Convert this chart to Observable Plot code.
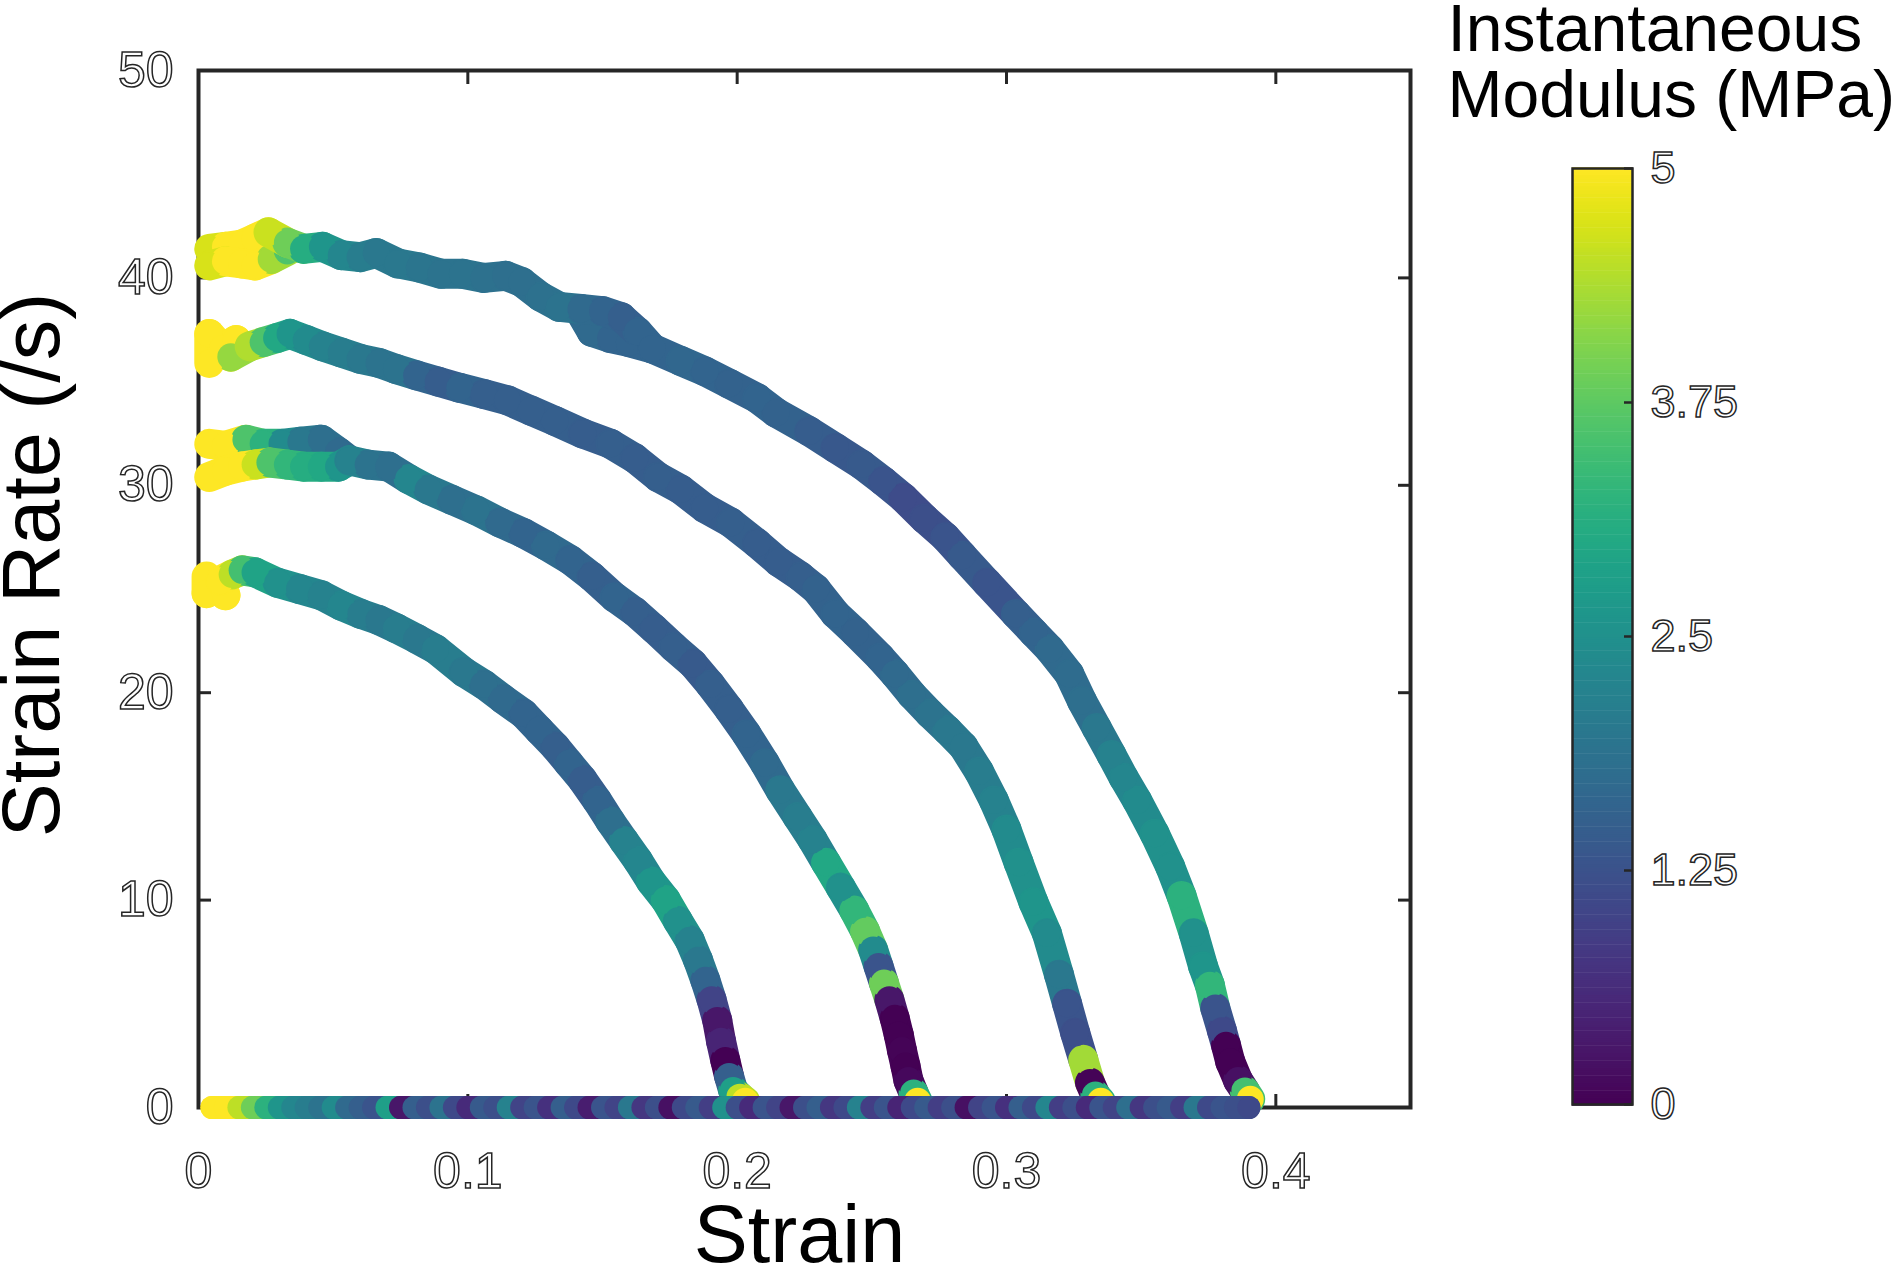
<!DOCTYPE html>
<html><head><meta charset="utf-8">
<script src="https://cdn.jsdelivr.net/npm/d3@7"></script>
<script src="https://cdn.jsdelivr.net/npm/@observablehq/plot@0.6"></script>
<style>
html,body{margin:0;padding:0;background:#fff;}
#wrap{position:relative;width:1901px;height:1269px;overflow:hidden;background:#fff;}
#main{position:absolute;left:0;top:0;}
#cbar{position:absolute;left:1440px;top:0;}
g[aria-label$="tick label"] text{fill:#fff;stroke:#262626;stroke-width:1.5px;}
</style></head><body>
<div id="wrap"><div id="main"></div><div id="cbar"></div></div>
<script>
// ---- axis text ----
const xLabel = "Strain";
const yLabel = "Strain Rate (/s)";
const cbTitle = ["Instantaneous", "Modulus (MPa)"];
const xTicks = [0, 0.1, 0.2, 0.3, 0.4];
const xTickLabels = ["0", "0.1", "0.2", "0.3", "0.4"];
const yTicks = [0, 10, 20, 30, 40, 50];
const yTickLabels = ["0", "10", "20", "30", "40", "50"];
const cbTicks = [0, 1.25, 2.5, 3.75, 5];
const cbTickLabels = ["0", "1.25", "2.5", "3.75", "5"];

// ---- run starting near 41 /s ----
const a41UpStrain = [0.004, 0.010, 0.016, 0.021, 0.026];
const a41UpRate = [41.4, 41.5, 41.6, 41.9, 42.2];
const a41UpMod = [4.7, 5.3, 5.3, 5.1, 4.6];
const a41LoStrain = [0.004, 0.010, 0.016, 0.021, 0.027, 0.033];
const a41LoRate = [40.6, 40.8, 40.7, 40.6, 40.9, 41.3];
const a41LoMod = [4.7, 5.2, 5.4, 5.3, 4.3, 3.6];
const a41TrackStrain = [0.142, 0.146, 0.153, 0.160, 0.1685];
const a41TrackRate = [38.3, 37.4, 37.1, 36.9, 36.6];
const a41TrackMod = [1.7, 1.7, 1.6, 1.6, 1.6];
const a41Strain = [0.026,0.033,0.039,0.046,0.053,0.060,0.066,0.074,0.082,0.090,0.098,0.106,0.114,0.120,0.127,0.134,0.142,0.150,0.157,0.163,0.1685,0.179,0.188,0.197,0.2074,0.2145,0.2268,0.2365,0.2462,0.2542,0.2617,0.2695,0.2773,0.2836,0.2928,0.3035,0.3101,0.316,0.3233,0.328,0.3335,0.339,0.3435,0.3485,0.355,0.3608,0.365,0.3695,0.373,0.3755,0.3775,0.380,0.3815,0.3831,0.386,0.3885,0.3905];
const a41Rate = [42.2,41.7,41.4,41.5,41.1,41.0,41.2,40.7,40.5,40.2,40.2,40.0,40.1,39.8,39.1,38.6,38.5,38.4,38.1,37.4,36.6,36.0,35.5,34.9,34.2,33.5,32.6,31.8,31.0,30.2,29.4,28.4,27.5,26.6,25.3,23.8,22.9,22.1,20.9,19.6,18.3,17.0,15.9,14.8,13.2,11.6,10.2,8.4,6.8,5.9,4.8,3.7,3.0,2.2,1.3,0.8,0.4];
const a41Mod = [4.6,3.9,3.1,2.6,2.3,2.1,2.0,2.0,1.95,1.9,1.9,1.85,1.8,1.8,1.85,1.9,1.7,1.6,1.5,1.6,1.6,1.65,1.6,1.55,1.6,1.55,1.45,1.35,1.4,1.3,1.15,1.2,1.3,1.4,1.3,1.5,1.6,1.7,1.75,1.8,2.0,2.2,2.3,2.4,2.5,2.5,3.2,2.5,2.6,3.3,1.3,1.1,0.0,0.0,0.2,3.5,5.0];

// ---- run starting near 37 /s ----
const b37StartStrain = [0.004, 0.004, 0.009, 0.014, 0.012, 0.019];
const b37StartRate = [35.9, 37.3, 36.6, 37.0, 36.2, 36.7];
const b37StartMod = [5.3, 5.2, 5.5, 5.1, 4.2, 4.4];
const b37Strain = [0.019,0.024,0.029,0.034,0.040,0.046,0.053,0.060,0.067,0.0735,0.081,0.089,0.097,0.106,0.1147,0.1235,0.1324,0.1427,0.153,0.162,0.1706,0.179,0.188,0.1977,0.2074,0.2155,0.2235,0.2292,0.2365,0.2439,0.2531,0.2586,0.2649,0.2715,0.278,0.284,0.2898,0.2953,0.300,0.3045,0.310,0.315,0.3195,0.3225,0.3255,0.3285,0.331,0.333,0.335];
const b37Rate = [36.7,36.9,37.1,37.3,37.0,36.7,36.4,36.1,35.9,35.6,35.3,35.0,34.7,34.4,34.1,33.6,33.1,32.5,32.0,31.3,30.4,29.8,28.9,28.2,27.2,26.3,25.6,25.0,23.8,22.9,21.7,20.9,19.9,19.0,18.2,17.4,16.2,14.8,13.4,11.8,9.9,8.4,6.4,5.0,3.6,2.3,1.2,0.6,0.3];
const b37Mod = [4.4,3.6,3.0,2.6,2.4,2.2,2.1,2.0,1.9,1.9,1.6,1.45,1.6,1.5,1.5,1.5,1.5,1.45,1.5,1.45,1.5,1.45,1.45,1.5,1.45,1.45,1.5,1.55,1.6,1.55,1.6,1.7,1.8,1.9,2.0,2.0,2.1,2.2,2.4,2.5,2.6,2.4,2.0,1.3,1.2,4.3,0.05,3.2,5.0];

// ---- run starting near 31 /s ----
const c31UpStrain = [0.004,0.010,0.0176,0.024,0.031,0.038,0.0456,0.052,0.056];
const c31UpRate = [32.0,31.9,32.2,32.0,32.0,32.1,32.2,31.6,31.2];
const c31UpMod = [5.4,5.3,3.6,3.2,2.4,2.0,1.8,1.7,1.8];
const c31LoStrain = [0.004,0.010,0.016,0.021,0.0265,0.033,0.039,0.0456,0.052,0.056];
const c31LoRate = [30.4,30.7,30.9,31.0,31.1,31.0,30.9,30.9,30.9,31.2];
const c31LoMod = [5.5,5.5,5.3,4.6,3.6,3.3,3.1,3.0,2.6,2.2];
const c31Strain = [0.056,0.063,0.0706,0.078,0.0853,0.094,0.103,0.112,0.1206,0.129,0.138,0.146,0.1545,0.162,0.169,0.1764,0.1835,0.190,0.197,0.2035,0.2103,0.216,0.2225,0.228,0.233,0.2385,0.2435,0.2475,0.2505,0.2525,0.2545,0.2565,0.2585,0.260,0.2612,0.2625,0.2636,0.2655,0.267];
const c31Rate = [31.2,31.0,30.9,30.3,29.8,29.3,28.8,28.2,27.7,27.1,26.4,25.6,24.6,23.9,23.1,22.2,21.4,20.4,19.2,18.0,16.6,15.3,14.0,12.9,11.8,10.6,9.5,8.5,7.6,6.8,6.0,5.2,4.3,3.5,2.75,2.0,1.3,0.7,0.3];
const c31Mod = [2.2,1.9,1.8,2.3,2.0,1.8,1.9,1.7,1.6,1.7,1.6,1.5,1.6,1.5,1.45,1.5,1.4,1.5,1.5,1.6,1.7,2.0,2.1,2.2,3.0,2.5,3.3,3.8,2.4,1.3,3.9,0.3,0.0,0.0,0.05,0.0,0.1,3.2,5.0];

// ---- run starting near 25 /s ----
const d25StartStrain = [0.003,0.003,0.008,0.010,0.008];
const d25StartRate = [25.6,24.8,25.3,24.7,25.4];
const d25StartMod = [5.5,5.4,5.2,5.0,5.0];
const d25Strain = [0.008,0.0125,0.0162,0.021,0.0294,0.0375,0.0456,0.053,0.0603,0.067,0.0735,0.081,0.088,0.0985,0.1059,0.113,0.1206,0.1265,0.1324,0.1375,0.1426,0.148,0.1529,0.158,0.1632,0.168,0.1735,0.178,0.1824,0.1855,0.1882,0.1905,0.1926,0.194,0.1956,0.197,0.1985,0.201,0.203];
const d25Rate = [25.4,25.7,25.9,25.8,25.3,25.0,24.7,24.2,23.8,23.5,23.1,22.6,22.1,21.0,20.4,19.7,19.0,18.2,17.4,16.6,15.8,14.8,13.8,12.85,11.9,10.9,10.0,9.0,8.06,7.1,6.13,5.2,4.2,3.2,2.27,1.5,0.82,0.5,0.3];
const d25Mod = [5.0,4.5,3.5,2.9,2.5,2.3,2.2,2.3,2.1,2.0,2.1,2.0,2.1,2.0,1.8,1.7,1.6,1.6,1.5,1.6,1.45,1.6,1.8,2.2,2.3,2.6,2.9,2.5,2.2,2.0,1.6,1.0,0.3,0.5,0.0,1.5,2.8,4.5,5.3];

// ---- zero strain-rate band ----
const baseRate = 0;
const baseStrain = [0.005,0.010,0.015,0.020,0.025,0.030,0.035,0.040,0.045,0.050,0.055,0.060,0.065,0.070,0.075,0.080,0.085,0.090,0.095,0.100,0.105,0.110,0.115,0.120,0.125,0.130,0.135,0.140,0.145,0.150,0.155,0.160,0.165,0.170,0.175,0.180,0.185,0.190,0.195,0.200,0.205,0.210,0.215,0.220,0.225,0.230,0.235,0.240,0.245,0.250,0.255,0.260,0.265,0.270,0.275,0.280,0.285,0.290,0.295,0.300,0.305,0.310,0.315,0.320,0.325,0.330,0.335,0.340,0.345,0.350,0.355,0.360,0.365,0.370,0.375,0.380,0.385,0.390];
const baseMod = [5.2,5.0,4.5,3.9,3.2,2.6,2.3,2.1,1.9,2.4, 1.7,1.5,1.3,2.8,0.3,1.5,1.2,1.9,1.1,0.6, 1.4,1.2,2.2,1.0,1.3,0.7,1.5,1.1,0.4,1.3, 1.0,2.0,0.8,1.2,0.2,1.1,1.4,0.9,2.5,1.2, 0.6,1.3,1.0,0.3,1.2,1.5,0.8,1.1,2.2,0.9, 1.3,0.5,1.1,1.4,0.9,1.2,0.2,1.0,1.3,0.7, 1.5,1.1,2.3,0.9,1.2,0.6,1.3,1.0,1.8,0.8, 1.2,1.4,0.9,2.0,1.1,1.3,1.2,1.1];

// ---- build tables ----
function pts(s, r, m) { return s.map((x, i) => ({x, y: Array.isArray(r) ? r[i] : r, m: m[i]})); }
function segs(p) { return p.slice(1).map((q, i) => ({x1: p[i].x, y1: p[i].y, x2: q.x, y2: q.y, m: p[i].m})); }

const curves = [
  pts(d25StartStrain, d25StartRate, d25StartMod),
  pts(d25Strain, d25Rate, d25Mod),
  pts(c31UpStrain, c31UpRate, c31UpMod),
  pts(c31LoStrain, c31LoRate, c31LoMod),
  pts(c31Strain, c31Rate, c31Mod),
  pts(b37StartStrain, b37StartRate, b37StartMod),
  pts(b37Strain, b37Rate, b37Mod),
  pts(a41UpStrain, a41UpRate, a41UpMod),
  pts(a41LoStrain, a41LoRate, a41LoMod),
  pts(a41TrackStrain, a41TrackRate, a41TrackMod),
  pts(a41Strain, a41Rate, a41Mod)
];
const base = pts(baseStrain, baseRate, baseMod);

const R = 11.5;
const dataMarks = [];
for (const p of curves) {
  dataMarks.push(Plot.link(segs(p), {x1: "x1", y1: "y1", x2: "x2", y2: "y2", stroke: "m", strokeWidth: 30, strokeLinecap: "round"}));
  dataMarks.push(Plot.dot(p, {x: "x", y: "y", fill: "m", r: 13.5}));
}
dataMarks.push(Plot.link(segs(base), {x1: "x1", y1: "y1", x2: "x2", y2: "y2", stroke: "m", strokeWidth: 2 * R, strokeLinecap: "round"}));
dataMarks.push(Plot.dot(base, {x: "x", y: "y", fill: "m", r: R}));

const ink = "#262626";
const font = "'Liberation Sans', Arial, Helvetica, sans-serif";
const colorScale = {type: "linear", scheme: "viridis", domain: [0, 5], clamp: true};

const main = Plot.plot({
  width: 1901, height: 1269,
  marginLeft: 198, marginRight: 491, marginTop: 70, marginBottom: 162,
  x: {domain: [0, 0.45]},
  y: {domain: [0, 50]},
  color: colorScale,
  style: {fontFamily: font, background: "white", overflow: "visible"},
  marks: [
    Plot.frame({stroke: ink, strokeWidth: 4}),
    Plot.axisX({anchor: "bottom", ticks: xTicks, tickSize: -13, tickFormat: () => "", stroke: ink, strokeWidth: 3, label: null}),
    Plot.axisX({anchor: "top", ticks: xTicks, tickSize: -13, tickFormat: () => "", stroke: ink, strokeWidth: 3, label: null}),
    Plot.axisY({anchor: "left", ticks: yTicks, tickSize: -13, tickFormat: () => "", stroke: ink, strokeWidth: 3, label: null}),
    Plot.axisY({anchor: "right", ticks: yTicks, tickSize: -13, tickFormat: () => "", stroke: ink, strokeWidth: 3, label: null}),
    Plot.axisX({anchor: "bottom", ticks: xTicks, tickSize: 0, tickPadding: 45, tickFormat: (d, i) => xTickLabels[i], fontSize: 50, label: null}),
    Plot.axisY({anchor: "left", ticks: yTicks, tickSize: 0, tickPadding: 25, tickFormat: (d, i) => yTickLabels[i], fontSize: 50, label: null}),
    ...dataMarks,
    Plot.text([xLabel], {text: d => d, frameAnchor: "bottom", dx: -5, dy: 129, textAnchor: "middle", lineAnchor: "middle", fontSize: 81, fill: "black"}),
    Plot.text([yLabel], {text: d => d, frameAnchor: "left", rotate: -90, dx: -165, dy: -24, textAnchor: "middle", lineAnchor: "middle", fontSize: 81, fill: "black"})
  ]
});
document.getElementById("main").appendChild(main);

const cbar = Plot.plot({
  width: 461, height: 1269,
  marginLeft: 132, marginRight: 269, marginTop: 168, marginBottom: 165,
  y: {domain: [0, 5]},
  color: colorScale,
  style: {fontFamily: font, background: "transparent", overflow: "visible"},
  marks: [
    Plot.tickY(d3.range(0, 5.001, 0.01), {y: d => d, stroke: d => d, strokeWidth: 2.5}),
    Plot.frame({stroke: ink, strokeWidth: 2.5}),
    Plot.axisY({anchor: "right", ticks: cbTicks, tickSize: -9, tickFormat: () => "", stroke: ink, strokeWidth: 2.5, label: null}),
    Plot.axisY({anchor: "right", ticks: cbTicks, tickSize: 0, tickPadding: 18, tickFormat: (d, i) => cbTickLabels[i], fontSize: 45, label: null}),
    Plot.text([cbTitle.join("\n")], {text: d => d, frameAnchor: "top-left", dx: -125, dy: -164, textAnchor: "start", lineAnchor: "top", lineHeight: 1.0, fontSize: 66, fill: "black"})
  ]
});
document.getElementById("cbar").appendChild(cbar);
</script></body></html>
